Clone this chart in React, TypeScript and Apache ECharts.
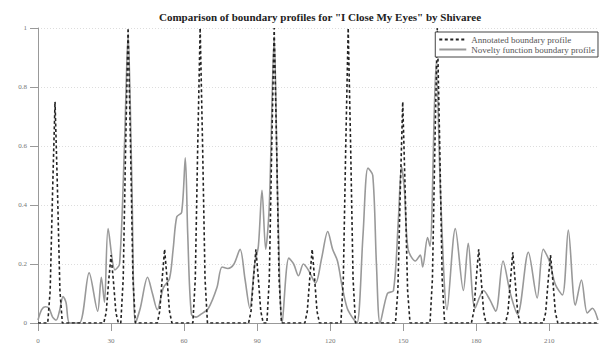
import React, { useEffect, useRef } from "react";
import * as echarts from "echarts";

const titleText = 'Comparison of boundary profiles for "I Close My Eyes" by Shivaree';
const annotatedName = "Annotated boundary profile";
const noveltyName = "Novelty function boundary profile";
const xTicks = [0, 30, 60, 90, 120, 150, 180, 210];

const annotated: number[][] = [
  [0, 0],
  [4, 0], [5, 0.11], [6, 0.45], [7, 0.75], [8, 0.45], [9, 0.11], [10, 0],
  [27, 0], [28, 0.035], [29, 0.14], [30, 0.23], [31, 0.14], [32, 0.035], [33, 0],
  [34, 0], [35, 0.15], [36, 0.6], [37, 1], [38, 0.6], [39, 0.15], [40, 0],
  [49, 0], [50, 0.04], [51, 0.15], [52, 0.25], [53, 0.15], [54, 0.04], [55, 0],
  [63.6, 0], [64.6, 0.15], [65.6, 0.6], [66.6, 1], [67.6, 0.6], [68.6, 0.15], [69.6, 0],
  [86.5, 0], [87.5, 0.04], [88.5, 0.15], [89.5, 0.25], [90.5, 0.15], [91.5, 0.04], [92.5, 0],
  [94, 0], [95, 0.15], [96, 0.6], [97, 1], [98, 0.6], [99, 0.15], [100, 0],
  [109.6, 0], [110.6, 0.04], [111.6, 0.15], [112.6, 0.25], [113.6, 0.15], [114.6, 0.04], [115.6, 0],
  [124.4, 0], [125.4, 0.15], [126.4, 0.6], [127.4, 1], [128.4, 0.6], [129.4, 0.15], [130.4, 0],
  [146.8, 0], [147.8, 0.11], [148.8, 0.45], [149.8, 0.75], [150.8, 0.45], [151.8, 0.11], [152.8, 0],
  [161, 0], [162, 0.15], [163, 0.6], [164, 1], [165, 0.6], [166, 0.15], [167, 0],
  [178, 0], [179, 0.04], [180, 0.15], [181, 0.25], [182, 0.15], [183, 0.04], [184, 0],
  [192, 0], [193, 0.035], [194, 0.14], [195, 0.24], [196, 0.14], [197, 0.035], [198, 0],
  [207.5, 0], [208.5, 0.035], [209.5, 0.14], [210.5, 0.23], [211.5, 0.14], [212.5, 0.035], [213.5, 0],
  [230, 0],
];

const novelty: number[][] = [
  [0, 0.01], [1.5, 0.045], [3, 0.055], [4.5, 0.05], [6, 0.02], [7.5, 0.01],
  [8.8, 0.04], [10.3, 0.09], [11.5, 0.07], [13, 0.0], [17, 0.0],
  [21, 0.17], [24.5, 0.04], [26, 0.155], [27.3, 0.07], [28.8, 0.32], [31.6, 0.18],
  [33.5, 0.2], [35.5, 0.6], [37, 0.98], [38.5, 0.5], [40, 0.0],
  [42, 0.05], [45, 0.155], [47, 0.1], [49, 0.045], [51.5, 0.12], [54, 0.15],
  [55.5, 0.25], [57, 0.36], [59, 0.375], [60.5, 0.56], [61.5, 0.3], [63, 0.03],
  [65, 0.02], [67, 0.03], [70, 0.05], [73.5, 0.12], [75.6, 0.19], [78, 0.185],
  [80.5, 0.2], [83, 0.25], [85, 0.15], [87, 0.05], [89, 0.2], [90.5, 0.26],
  [92, 0.45], [93.5, 0.25], [95, 0.4], [97, 0.97], [98.5, 0.4], [100.3, 0.0],
  [103, 0.22], [105, 0.2], [107, 0.16], [109, 0.2], [111, 0.18], [114, 0.135],
  [116.5, 0.22], [119, 0.31], [121, 0.25], [123, 0.21], [125, 0.12], [127, 0.05],
  [129, 0.02], [131, 0.0], [133.5, 0.3], [135.5, 0.525], [137.5, 0.5], [139, 0.2],
  [140.5, 0.0], [143.5, 0.1], [146, 0.11], [148, 0.35], [149.3, 0.53], [150.5, 0.45],
  [152, 0.25], [155, 0.21], [157, 0.23], [158, 0.19], [160, 0.29], [161, 0.26],
  [163.5, 0.88], [165.5, 0.4], [168, 0.045], [171.4, 0.32], [174.7, 0.11],
  [176.7, 0.27], [179.5, 0.05], [183, 0.11], [185.5, 0.08], [188, 0.04],
  [191, 0.21], [194, 0.1], [197, 0.03], [201.4, 0.24], [205, 0.085], [207.5, 0.25],
  [210, 0.21], [212.5, 0.13], [215.4, 0.095], [217.8, 0.315], [220.7, 0.06],
  [223.2, 0.146], [225.6, 0.034], [227.7, 0.05], [230, 0.01],
];

const serif = "'Liberation Serif', 'DejaVu Serif', serif";

export default function App() {
  const ref = useRef<HTMLDivElement>(null);
  useEffect(() => {
    if (!ref.current) return;
    const chart = echarts.init(ref.current, undefined, { renderer: "svg" });
    chart.setOption({
      animation: false,
      backgroundColor: "#fff",
      title: {
        text: titleText,
        left: 320,
        textAlign: "center",
        top: 11,
        padding: 0,
        textStyle: { fontFamily: serif, fontSize: 11, fontWeight: "bold", color: "#222" },
      },
      legend: {
        orient: "vertical",
        right: 4,
        top: 32,
        data: [annotatedName, noveltyName],
        backgroundColor: "#fff",
        borderColor: "#444",
        borderWidth: 1,
        padding: [3, 3, 3, 3],
        itemGap: 1,
        itemWidth: 27,
        itemHeight: 9,
        itemStyle: { color: "rgba(0,0,0,0)", borderColor: "rgba(0,0,0,0)", borderWidth: 0 },
        textStyle: { fontFamily: serif, fontSize: 9, lineHeight: 9, color: "#555" },
        z: 10,
      },
      grid: { left: 38, right: 4, top: 28, bottom: 26 },
      xAxis: {
        type: "value",
        min: 0,
        max: 230,
        axisLine: { show: true, lineStyle: { color: "#999", width: 1 } },
        axisTick: { show: true, length: 8, lineStyle: { color: "#999" }, customValues: xTicks },
        axisLabel: { fontFamily: serif, fontSize: 7, color: "#777", margin: 14, customValues: xTicks },
        splitLine: { show: false },
      },
      yAxis: {
        type: "value",
        min: 0,
        max: 1,
        interval: 0.2,
        axisLine: { show: true, lineStyle: { color: "#999", width: 1 } },
        axisTick: { show: true, length: 8, lineStyle: { color: "#999" } },
        axisLabel: { fontFamily: serif, fontSize: 7, color: "#777", margin: 11 },
        splitLine: { show: true, lineStyle: { color: "#ddd", type: [1, 2], width: 1 } },
      },
      series: [
        {
          name: noveltyName,
          type: "line",
          data: novelty,
          smooth: 0.3,
          symbol: "none",
          lineStyle: { color: "#999", width: 1.6 },
          itemStyle: { color: "#999" },
          z: 2,
        },
        {
          name: annotatedName,
          type: "line",
          data: annotated,
          symbol: "none",
          lineStyle: { color: "#222", width: 1.6, type: [3, 2.5] },
          itemStyle: { color: "#222" },
          z: 3,
        },
      ],
    });
    return () => chart.dispose();
  }, []);
  return <div ref={ref} style={{ width: 602, height: 349, position: "absolute", left: 0, top: 0 }} />;
}
